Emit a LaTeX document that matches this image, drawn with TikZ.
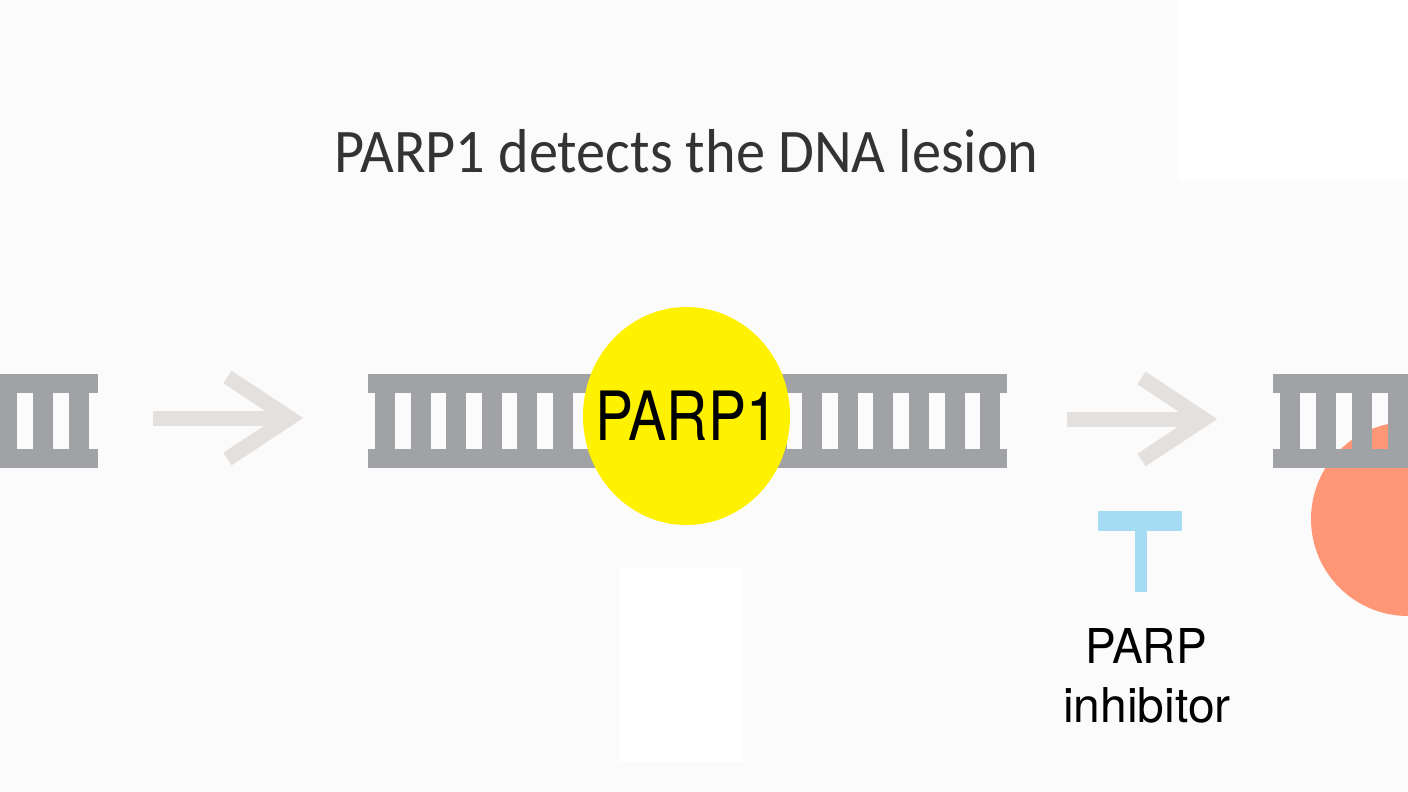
\documentclass[tikz,border=0pt]{standalone}
\usepackage{fontspec}
\usepackage{tikz}
\usetikzlibrary{shapes.geometric,calc}
\newfontfamily\titlefont{Carlito}
\newfontfamily\labelfont{TeX Gyre Heros}
\definecolor{bgwhite}{HTML}{FBFBFB}
\definecolor{dnagray}{HTML}{A1A2A6}
\definecolor{arrowgray}{HTML}{E3E0DE}
\definecolor{parpyellow}{HTML}{FFF200}
\definecolor{blobsalmon}{HTML}{FF9676}
\definecolor{inhblue}{HTML}{A5DBF3}
\definecolor{titlegray}{HTML}{333333}

\begin{document}
\begin{tikzpicture}[x=1pt, y=-1pt,
  rail/.style={fill=dnagray},
  arrowline/.style={draw=arrowgray, line width=15pt, line join=miter},
  parpball/.style={ellipse, fill=parpyellow, minimum width=207pt, minimum height=218pt, inner sep=0pt},
  blob/.style={circle, fill=blobsalmon, minimum size=194pt, inner sep=0pt},
  heading/.style={anchor=base, text=titlegray, font=\titlefont\fontsize{62}{70}\selectfont},
  label/.style={anchor=base, text=black, font=\labelfont\fontsize{48}{56}\selectfont}]

  % background and paper panels
  \useasboundingbox (0,0) rectangle (1408,792);
  \fill[bgwhite] (0,0) rectangle (1408,792);
  \fill[white] (620,568) rectangle (743,762);
  \fill[white] (1178,0) rectangle (1408,180);

  % title
  \node[heading] (title) at (686.5,172) {\scalebox{0.94}[1]{PARP1 detects the DNA lesion}};

  % protein behind the right DNA
  \node[blob] (trap) at (1408,519) {};

  % left DNA
  \fill[rail] (-10,374) rectangle (98,393);
  \fill[rail] (-10,449) rectangle (98,468);
  \foreach \x in {-3,33,69}
    \fill[rail] (\x,393) rectangle ++(20,56);

  % middle DNA
  \fill[rail] (368,374) rectangle (1007,393);
  \fill[rail] (368,449) rectangle (1007,468);
  \foreach \i in {0,...,17}
    \fill[rail] (375+35.6*\i,393) rectangle ++(20,56);

  % right DNA
  \fill[rail] (1273,374) rectangle (1418,393);
  \fill[rail] (1273,449) rectangle (1418,468);
  \foreach \x in {1280,1316,1352,1388}
    \fill[rail] (\x,393) rectangle ++(20,56);

  % PARP1 on the lesion
  \node[parpball] (parp) at (686.5,416) {};
  \node[label, anchor=center] (parptext) at (parp.center) {\fontsize{68}{76}\selectfont\scalebox{0.84}[1]{PARP1}};

  % arrows
  \coordinate (shL) at (153,418);
  \coordinate (tipL) at (289.5,418);
  \coordinate (shR) at (1067,419);
  \coordinate (tipR) at (1203.5,419);
  \draw[arrowline] (shL) -- (tipL);
  \draw[arrowline] ($(tipL)+(-62,-41)$) -- (tipL) -- ($(tipL)+(-62,41)$);
  \draw[arrowline] (shR) -- (tipR);
  \draw[arrowline] ($(tipR)+(-62,-41)$) -- (tipR) -- ($(tipR)+(-62,41)$);

  % inhibitor
  \fill[inhblue] (1098,511) rectangle (1182,531);
  \fill[inhblue] (1135,531) rectangle (1147,592);
  \node[label] (inhA) at (1146,663) {\scalebox{0.96}[1]{PARP}};
  \node[label] (inhB) at (1147,722) {inhibitor};
\end{tikzpicture}
\end{document}
